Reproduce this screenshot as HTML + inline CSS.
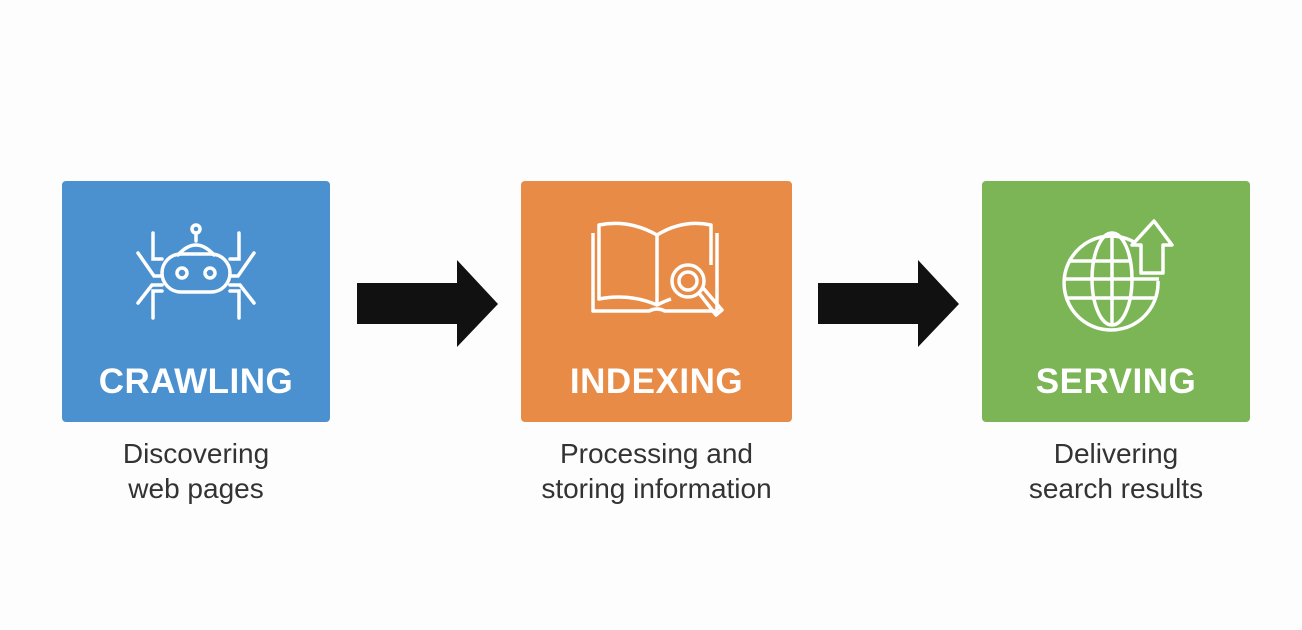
<!DOCTYPE html>
<html><head><style>
body{margin:0;width:1302px;height:630px;background:#fdfdfd;position:relative;overflow:hidden;font-family:"Liberation Sans",sans-serif}
.box{position:absolute;top:181px;height:241px;border-radius:4px}
.t{position:absolute;top:181px;width:100%;text-align:center;color:#fff;font-weight:bold;font-size:35px;letter-spacing:0.5px}
.s{position:absolute;top:436px;text-align:center;font-size:28px;line-height:35px;color:#333}
svg{position:absolute}
</style></head><body>
<div class="box" style="left:62px;width:268px;background:#4b91cf"><div class="t">CRAWLING</div>
<svg style="left:0;top:0" width="268" height="241" fill="none" stroke="#fff" stroke-width="3.5" stroke-linecap="round">
<circle cx="134" cy="48" r="4"/><line x1="134" y1="52" x2="134" y2="60"/>
<path d="M116 74 Q134 54 152 74"/>
<rect x="100" y="73" width="68" height="38" rx="19"/>
<circle cx="120" cy="92" r="5"/><circle cx="148" cy="92" r="5"/>
<path d="M91 52 V78 H100 M177 52 V78 H168 M76 72 L92 95 H100 M192 72 L176 95 H168 M76 122 L90 104 H100 M192 122 L178 104 H168 M91 137 V110 H100 M177 137 V110 H168"/>
</svg></div>
<div class="box" style="left:521px;width:271px;background:#e88b47"><div class="t">INDEXING</div>
<svg style="left:0;top:0" width="271" height="241" fill="none" stroke="#fff" stroke-width="3.5" stroke-linejoin="round">
<path d="M72 52 V130 H128 Q136 126 144 130 H196 V52"/>
<path d="M78 44 Q108 38 136 54 V124 Q108 112 78 118 Z"/>
<path d="M136 54 Q162 38 190 44 V84"/>
<path d="M136 124 Q144 120 150 118"/>
<circle cx="167" cy="100" r="16"/><circle cx="167" cy="100" r="9"/>
<path d="M178 112 L195 134 L201 129 L183 108" stroke-linecap="round"/>
</svg></div>
<div class="box" style="left:982px;width:268px;background:#7bb556"><div class="t">SERVING</div>
<svg style="left:0;top:0" width="268" height="241" fill="none" stroke="#fff" stroke-width="3.5">
<path d="M158 65 A47 47 0 1 0 176 100"/>
<ellipse cx="130" cy="98" rx="20" ry="46"/>
<line x1="130" y1="52" x2="130" y2="144"/>
<path d="M86 80 H148 M83 98 H177 M86 117 H174"/>
<path d="M159 92 V64 H150 L172 40 L190 64 H181 V92 Z" fill="#7bb556" stroke-linejoin="round"/>
</svg></div>
<svg style="left:357px;top:260px" width="142" height="88"><polygon points="0,23 100,23 100,0 141,44 100,87 100,64 0,64" fill="#111"/></svg>
<svg style="left:818px;top:260px" width="142" height="88"><polygon points="0,23 100,23 100,0 141,44 100,87 100,64 0,64" fill="#111"/></svg>
<div class="s" style="left:62px;width:268px">Discovering<br>web pages</div>
<div class="s" style="left:521px;width:271px">Processing and<br>storing information</div>
<div class="s" style="left:982px;width:268px">Delivering<br>search results</div>
</body></html>
